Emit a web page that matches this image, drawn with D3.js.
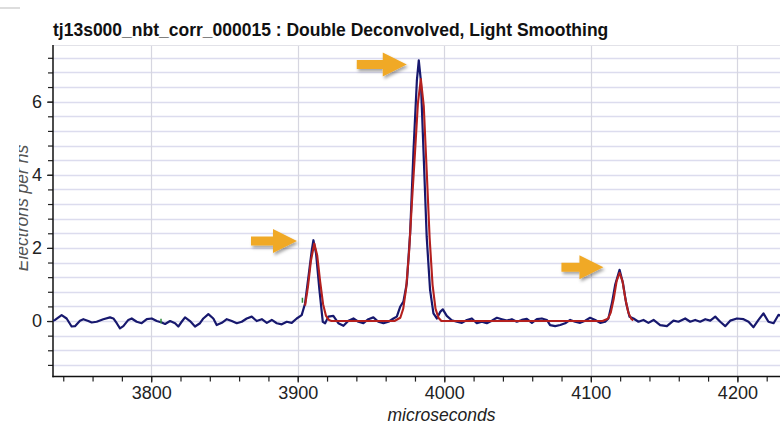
<!DOCTYPE html>
<html>
<head>
<meta charset="utf-8">
<script src="https://cdn.jsdelivr.net/npm/d3@7"></script>
<style>
  body { margin: 0; background: #fff; }
  svg { display: block; font-family: "Liberation Sans", Arial, sans-serif; }
</style>
</head>
<body>
<div id="chart"></div>
<script>
// chart text
var titleText = "tj13s000_nbt_corr_000015 : Double Deconvolved, Light Smoothing";
var xLabel = "microseconds";
var yLabel = "Electrons per ns";

// axis ranges and ticks
var xDomain = [3733, 4240];
var yDomain = [-1.52, 7.55];
var xMajor = [3800, 3900, 4000, 4100, 4200];
var yMajor = [0, 2, 4, 6];

// measured signal, [microseconds, electrons per ns]
var measured = [
  [3731, -0.02], [3734.4, 0.03], [3738.9, 0.16], [3742.3, 0.07], [3745.7, -0.15], [3748, -0.14],
  [3751.4, 0.01], [3753.7, 0.05], [3757.1, 0.0], [3759.4, -0.04], [3762.8, -0.02], [3767.3, 0.05],
  [3771.9, 0.10], [3774.2, 0.07], [3776.5, -0.06], [3778.7, -0.20], [3781, -0.14], [3784.4, 0.03],
  [3786.7, 0.07], [3790.1, -0.02], [3793.5, -0.06], [3797, 0.05], [3800.4, 0.07], [3803.8, 0.0],
  [3807.2, -0.04], [3809.5, -0.08], [3812.9, 0.0], [3816.3, -0.06], [3818.5, -0.15], [3820.8, -0.02],
  [3823.1, 0.10], [3826.5, 0.0], [3829.9, -0.15], [3833.3, -0.06], [3835.6, 0.07], [3839, 0.19],
  [3842.4, 0.07], [3844.7, -0.11], [3848.2, -0.05], [3851.6, 0.05], [3855, 0.0], [3858.4, -0.06],
  [3861.8, -0.02], [3865.2, 0.07], [3868.6, 0.12], [3872, 0.0], [3875.5, 0.05], [3878.9, -0.05],
  [3882.3, 0.03], [3885.7, -0.06], [3889.1, -0.09], [3892.5, -0.02], [3895.9, -0.05], [3899.3, 0.07],
  [3902.7, 0.16], [3905, 0.48], [3907.3, 1.21], [3909.6, 1.94], [3910.7, 2.21], [3912.5, 1.85],
  [3914.8, 0.85], [3917.1, -0.02], [3918.7, -0.06], [3920.9, 0.12], [3924.3, 0.14], [3927.7, -0.06],
  [3931.2, -0.13], [3934.6, 0.01], [3938, 0.07], [3941.4, -0.02], [3944.8, -0.06], [3948.2, 0.05],
  [3951.6, 0.10], [3955, -0.02], [3958.5, -0.06], [3961.9, -0.02], [3965.3, 0.07], [3967.6, 0.12],
  [3969.9, 0.39], [3972.1, 0.53], [3974.4, 1.03], [3976.7, 2.4], [3979, 4.67], [3981.3, 6.58],
  [3982.6, 7.13], [3984, 6.58], [3985.8, 4.67], [3988, 2.3], [3990.3, 0.85], [3992.6, 0.21],
  [3994.9, 0.07], [3997.2, 0.25], [3999, 0.32], [4001.7, 0.14], [4005.1, 0.02], [4008.6, -0.02],
  [4012, -0.05], [4015.4, 0.03], [4018.8, 0.07], [4022.2, -0.06], [4025.6, -0.02], [4029, -0.06],
  [4032.4, 0.01], [4035.9, 0.09], [4039.3, 0.05], [4042.7, 0.01], [4046.1, 0.05], [4049.5, -0.02],
  [4052.9, 0.03], [4056.3, 0.06], [4059.8, -0.05], [4063.2, 0.05], [4066.6, 0.07], [4070, 0.03],
  [4072.2, -0.11], [4075.7, -0.14], [4079.1, -0.11], [4082.5, -0.06], [4085.9, 0.03], [4089.3, -0.02],
  [4092.7, -0.05], [4096.1, 0.01], [4099.5, 0.09], [4103, 0.03], [4106.4, -0.05], [4109.8, -0.02],
  [4112, 0.07], [4114.4, 0.49], [4116.6, 0.99], [4119.6, 1.40], [4121.9, 1.04], [4124.1, 0.49],
  [4126.4, 0.12], [4129.1, 0.07], [4132.5, -0.02], [4135.9, 0.03], [4139.3, -0.05], [4142.8, 0.03],
  [4147.3, -0.11], [4151.9, -0.14], [4156.4, 0.01], [4159.8, -0.02], [4164.4, 0.07], [4167.8, -0.02],
  [4171.2, 0.03], [4174.6, -0.02], [4178.1, 0.05], [4181.5, 0.01], [4184.9, 0.12], [4188.3, -0.02],
  [4191.7, -0.14], [4195.1, 0.01], [4199.7, 0.07], [4204.2, 0.05], [4207.6, -0.02], [4211, -0.17],
  [4214.4, 0.03], [4217.8, 0.21], [4221.2, -0.02], [4224.7, -0.06], [4228.1, 0.17], [4232, 0.10],
  [4236, 0.0], [4240, 0.04]
];

// fitted peaks (smoothed model)
var fitted = [
  [3905, 0.42], [3907, 0.95], [3909, 1.65], [3911.3, 2.12], [3913.3, 1.79], [3915.3, 1.08],
  [3917.3, 0.46], [3919.3, 0.14], [3921.3, 0.03], [3923, 0.0], [3966, 0.0], [3970, 0.09],
  [3972, 0.34], [3974, 0.90], [3976, 1.90], [3978, 3.30], [3980, 4.60], [3982, 5.95],
  [3984, 6.62], [3986, 5.88], [3988, 4.11], [3990, 2.27], [3992, 0.99], [3994, 0.34],
  [3996, 0.09], [3998, 0.0], [4108, 0.0], [4111.6, 0.06], [4113.6, 0.23], [4115.6, 0.60],
  [4117.6, 1.09], [4119.6, 1.32], [4121.6, 1.09], [4123.6, 0.60], [4125.6, 0.23], [4127.6, 0.06],
  [4129, 0.02]
];

// small green marks on the trace
var marks = [[3806.7, -0.06, 0.06], [3903.2, 0.5, 0.64]];

// arrow annotations: tip position [microseconds, value], length in px
var arrows = [[3899.5, 2.19, 46], [3974.4, 7.02, 50], [4108.6, 1.47, 42]];

var width = 780, height = 428;
var margin = {left: 53, top: 45};
var plotRight = 796, plotBottom = 376.6;
var narrow = '"Liberation Sans Narrow", "Liberation Sans", Arial, sans-serif';

var svg = d3.select('#chart').append('svg')
    .attr('width', width)
    .attr('height', height);

var x = d3.scaleLinear().domain(xDomain).range([margin.left, plotRight]);
var y = d3.scaleLinear().domain(yDomain).range([plotBottom, margin.top]);

var defs = svg.append('defs');
defs.append('clipPath').attr('id', 'plotclip').append('rect')
    .attr('x', margin.left).attr('y', margin.top)
    .attr('width', plotRight - margin.left).attr('height', plotBottom - margin.top);
defs.append('clipPath').attr('id', 'ylabclip').append('rect')
    .attr('x', 19).attr('y', 0).attr('width', 40).attr('height', height);
var shadow = defs.append('filter').attr('id', 'shadow')
    .attr('x', '-30%').attr('y', '-30%').attr('width', '160%').attr('height', '160%');
shadow.append('feDropShadow').attr('dx', 1.5).attr('dy', 2.5).attr('stdDeviation', 1.5)
    .attr('flood-color', '#000').attr('flood-opacity', 0.35);

// stray line top-left
svg.append('line').attr('x1', 0).attr('x2', 20).attr('y1', 8).attr('y2', 8)
    .attr('stroke', '#bbb').attr('stroke-width', 1);

//Title
svg.append('text')
    .attr('x', margin.left).attr('y', 36)
    .attr('font-size', 17.5).attr('font-weight', 'bold')
    .attr('font-family', narrow)
    .attr('fill', '#111')
    .text(titleText);

//Grid
var yMinor = d3.range(-1.2, 7.4, 0.4).map(function (d) { return Math.round(d * 10) / 10; });
var xMinor = d3.range(3740, 4241, 20);

svg.append('g').selectAll('line').data(yMinor).enter().append('line')
    .attr('x1', margin.left).attr('x2', plotRight)
    .attr('y1', function (d) { return Math.round(y(d)) + 0.5; })
    .attr('y2', function (d) { return Math.round(y(d)) + 0.5; })
    .attr('stroke', '#dcdcee').attr('stroke-width', 1.4);
svg.append('g').selectAll('line').data(xMajor).enter().append('line')
    .attr('x1', function (d) { return Math.round(x(d)) + 0.5; })
    .attr('x2', function (d) { return Math.round(x(d)) + 0.5; })
    .attr('y1', margin.top).attr('y2', plotBottom)
    .attr('stroke', '#d6d6e0').attr('stroke-width', 1.2);
svg.append('line').attr('x1', margin.left).attr('x2', plotRight)
    .attr('y1', margin.top + 0.5).attr('y2', margin.top + 0.5)
    .attr('stroke', '#e2e2e8');

//Axes
var yAxisMinor = d3.axisLeft(y).tickValues(yMinor).tickSize(5).tickFormat('');
var yAxis = d3.axisLeft(y).tickValues(yMajor).tickSize(6).tickPadding(5).tickFormat(d3.format('d'));
var xAxisMinor = d3.axisBottom(x).tickValues(xMinor).tickSize(5).tickFormat('');
var xAxis = d3.axisBottom(x).tickValues(xMajor).tickSize(6).tickPadding(4).tickFormat(d3.format('d'));

function styleAxis(g) {
    g.select('.domain').remove();
    g.selectAll('line').attr('stroke', '#222').attr('stroke-width', 1.2);
    g.selectAll('text').attr('fill', '#222').attr('font-size', 18)
        .attr('font-family', narrow);
}

svg.append('g').attr('transform', 'translate(' + margin.left + ',0)').call(yAxisMinor).call(styleAxis);
svg.append('g').attr('transform', 'translate(' + margin.left + ',0)').call(yAxis).call(styleAxis);
svg.append('g').attr('transform', 'translate(0,' + plotBottom + ')').call(xAxisMinor).call(styleAxis);
svg.append('g').attr('transform', 'translate(0,' + plotBottom + ')').call(xAxis).call(styleAxis);

svg.append('line').attr('x1', margin.left).attr('x2', margin.left)
    .attr('y1', margin.top).attr('y2', plotBottom + 0.6)
    .attr('stroke', '#111').attr('stroke-width', 1.5);
svg.append('line').attr('x1', margin.left - 0.6).attr('x2', plotRight)
    .attr('y1', plotBottom).attr('y2', plotBottom)
    .attr('stroke', '#111').attr('stroke-width', 1.5);

//Axis labels
svg.append('text')
    .attr('x', (margin.left + 830) / 2).attr('y', 421)
    .attr('text-anchor', 'middle').attr('font-style', 'italic').attr('font-size', 17.5)
    .attr('font-family', narrow)
    .attr('fill', '#222')
    .text(xLabel);
svg.append('g').attr('clip-path', 'url(#ylabclip)')
    .append('text')
    .attr('transform', 'translate(27.5,208)rotate(-90)')
    .attr('text-anchor', 'middle').attr('font-style', 'italic').attr('font-size', 17.5)
    .attr('fill', '#555')
    .text(yLabel);

//Lines
var line = d3.line()
    .x(function (d) { return x(d[0]); })
    .y(function (d) { return y(d[1]); });

var plot = svg.append('g').attr('clip-path', 'url(#plotclip)');
plot.append('path').datum(measured)
    .attr('d', line).attr('fill', 'none')
    .attr('stroke', '#17186e').attr('stroke-width', 2.2).attr('stroke-linejoin', 'round');
plot.append('path').datum(fitted)
    .attr('d', line).attr('fill', 'none')
    .attr('stroke', '#b4201e').attr('stroke-width', 2.1).attr('stroke-linejoin', 'round');
plot.selectAll('.mark').data(marks).enter().append('line')
    .attr('x1', function (d) { return x(d[0]); }).attr('x2', function (d) { return x(d[0]); })
    .attr('y1', function (d) { return y(d[1]); }).attr('y2', function (d) { return y(d[2]); })
    .attr('stroke', '#2e8b3a').attr('stroke-width', 1.5);

//Arrows
svg.append('g').selectAll('path').data(arrows).enter().append('path')
    .attr('d', function (d) {
        var tx = x(d[0]), ty = y(d[1]), len = d[2];
        var head = 24, hh = 12, sh = 4.5;
        return 'M' + tx + ',' + ty +
            'L' + (tx - head) + ',' + (ty - hh) +
            'L' + (tx - head) + ',' + (ty - sh) +
            'L' + (tx - len) + ',' + (ty - sh) +
            'L' + (tx - len) + ',' + (ty + sh) +
            'L' + (tx - head) + ',' + (ty + sh) +
            'L' + (tx - head) + ',' + (ty + hh) + 'Z';
    })
    .attr('fill', '#f0a928')
    .attr('filter', 'url(#shadow)');
</script>
</body>
</html>
